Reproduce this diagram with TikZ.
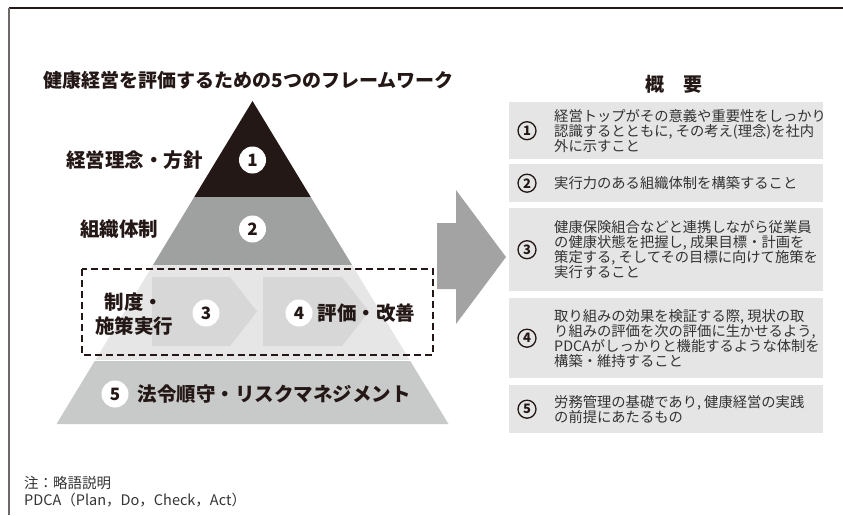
\documentclass[tikz,border=0pt]{standalone}
\usepackage{fontspec}
\setmainfont{Noto Sans CJK JP}
\usepackage{tikz}
\usetikzlibrary{arrows,positioning}
\definecolor{inkblack}{HTML}{231815}
\definecolor{framegray}{HTML}{6E6767}
\definecolor{levelgray}{HTML}{9FA0A0}
\definecolor{bandgray}{HTML}{E6E6E6}
\definecolor{chevgray}{HTML}{D6D7D6}
\definecolor{basegray}{HTML}{C8C9C9}
\definecolor{boxgray}{HTML}{E5E5E5}
\definecolor{arrowgray}{HTML}{A3A3A3}
\definecolor{textgray}{HTML}{333333}
\tikzset{
    %Define style for headings
    heading/.style={
           font=\fontsize{19}{22}\selectfont\bfseries,
           text=inkblack,
           inner sep=0pt,
           },
    %Define style for level labels
    level/.style={
           font=\fontsize{19.5}{24}\selectfont\bfseries,
           text=inkblack,
           inner sep=0pt,
           align=center,
           },
    %Define style for numbered circles
    number/.style={
           circle,
           fill=white,
           minimum size=27pt,
           inner sep=0pt,
           font=\fontsize{17}{17}\selectfont\bfseries,
           text=inkblack,
           },
    %Define style for summary boxes
    summary/.style={
           rectangle,
           fill=boxgray,
           minimum width=314pt,
           anchor=north west,
           inner sep=0pt,
           },
    circled/.style={
           circle,
           draw=inkblack,
           line width=1.3pt,
           minimum size=18pt,
           inner sep=0pt,
           font=\fontsize{13}{13}\selectfont\bfseries,
           text=inkblack,
           },
    detail/.style={
           font=\fontsize{14.3}{15}\selectfont,
           text=textgray,
           align=left,
           inner sep=0pt,
           anchor=west,
           },
    note/.style={
           font=\fontsize{14.5}{16}\selectfont,
           text=textgray,
           inner sep=0pt,
           anchor=west,
           },
}

\begin{document}
\begin{tikzpicture}[x=1pt,y=-1pt]
\useasboundingbox (0,0) rectangle (843,515);
\draw[inkblack, line width=1.2pt] (9,8) -- (843,8);
\draw[framegray, line width=1.3pt] (9,8) -- (9,515);

% pyramid
\coordinate (apex) at (252.5,101);
\coordinate (bl) at (56.5,424);
\coordinate (br) at (448.5,424);
\begin{scope}
\clip (apex) -- (bl) -- (br) -- cycle;
\fill[inkblack] (0,90) rectangle (843,197);
\fill[levelgray] (0,197) rectangle (843,265);
\fill[bandgray] (0,265) rectangle (843,360);
\fill[basegray] (0,361) rectangle (843,430);
\end{scope}
\fill[chevgray] (152,277) -- (230,277) -- (257,311.5) -- (230,346) -- (152,346) -- cycle;
\fill[chevgray] (263,277) -- (342,277) -- (369,311.5) -- (342,346) -- (263,346) -- cycle;
\draw[inkblack, line width=1.3pt, dash pattern=on 7pt off 4pt] (82,269) rectangle (433,355);

\node[heading] (title) at (248.5,80) {健康経営を評価するための5つのフレームワーク};
\node[number] (n1) at (252.5,160) {1};
\node[number] (n2) at (252.5,229) {2};
\node[number] (n3) at (206,313) {3};
\node[number] (n4) at (299,313) {4};
\node[number] (n5) at (115,394) {5};
\node[level, anchor=east] (l1) at (203,160) {経営理念・方針};
\node[level] (l2) at (119,229) {組織体制};
\node[level] (l3) at (134,314) {制度・\\施策実行};
\node[level, right=5pt of n4] (l4) {評価・改善};
\node[level, right=9pt of n5] (l5) {法令順守・リスクマネジメント};

% arrow
\fill[arrowgray] (437,223) -- (456,223) -- (456,190) -- (506,257) -- (456,324) -- (456,289) -- (437,289) -- cycle;

% summary
\node[heading] (head) at (673.5,84) {概　要};
\node[summary, minimum height=57pt] (b1) at (509,102) {};
\node[summary, minimum height=38pt] (b2) at (509,164) {};
\node[summary, minimum height=83pt] (b3) at (509,208) {};
\node[summary, minimum height=80pt] (b4) at (509,298) {};
\node[summary, minimum height=48pt] (b5) at (509,385) {};
\node[circled] (c1) at ([xshift=18pt]b1.west) {1};
\node[circled] (c2) at ([xshift=18pt]b2.west) {2};
\node[circled] (c3) at ([xshift=18pt]b3.west) {3};
\node[circled] (c4) at ([xshift=18pt]b4.west) {4};
\node[circled] (c5) at ([xshift=18pt]b5.west) {5};
\node[detail] (d1) at ([xshift=45pt]b1.west) {経営トップがその意義や重要性をしっかり\\認識するとともに, その考え(理念)を社内\\外に示すこと};
\node[detail] (d2) at ([xshift=45pt]b2.west) {実行力のある組織体制を構築すること};
\node[detail] (d3) at ([xshift=45pt]b3.west) {健康保険組合などと連携しながら従業員\\の健康状態を把握し, 成果目標・計画を\\策定する, そしてその目標に向けて施策を\\実行すること};
\node[detail] (d4) at ([xshift=45pt]b4.west) {取り組みの効果を検証する際, 現状の取\\り組みの評価を次の評価に生かせるよう,\\PDCAがしっかりと機能するような体制を\\構築・維持すること};
\node[detail] (d5) at ([xshift=45pt]b5.west) {労務管理の基礎であり, 健康経営の実践\\の前提にあたるもの};

% note
\node[note] (note1) at (24,483) {注：略語説明};
\node[note] (note2) at (24,500) {PDCA（Plan，Do，Check，Act）};
\end{tikzpicture}
\end{document}
